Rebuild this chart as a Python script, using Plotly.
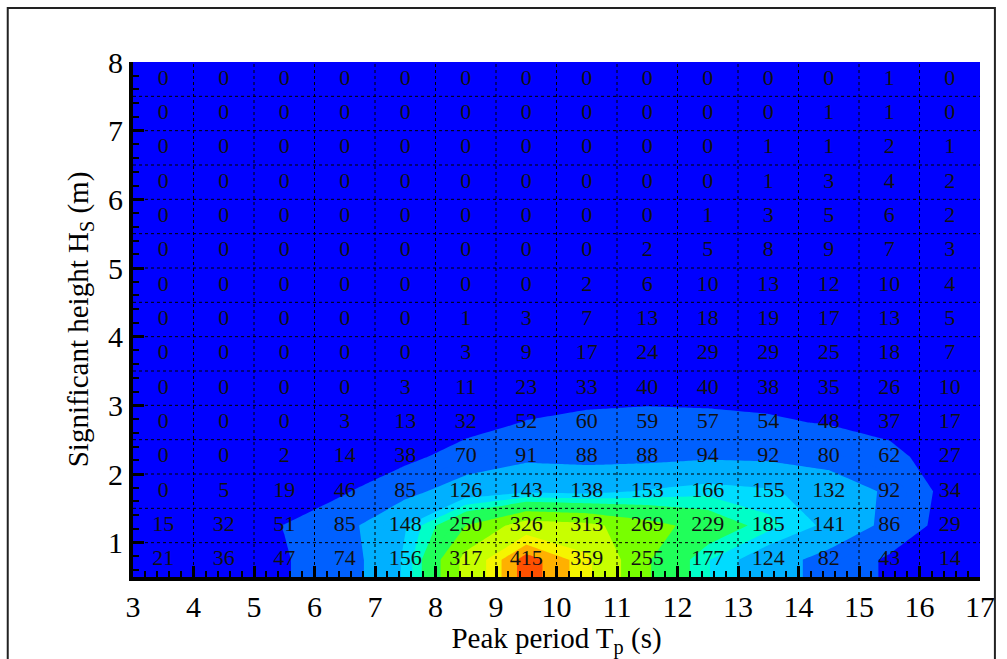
import numpy as np
import plotly.graph_objects as go

# Bin centres of the scatter table
peak_period = [3.5, 4.5, 5.5, 6.5, 7.5, 8.5, 9.5, 10.5, 11.5, 12.5, 13.5, 14.5, 15.5, 16.5]
sig_height = [0.75, 1.25, 1.75, 2.25, 2.75, 3.25, 3.75, 4.25, 4.75, 5.25, 5.75, 6.25, 6.75, 7.25, 7.75]

# Occurrence counts, one row per Hs bin (bottom row first)
counts = [
    [21, 36, 47, 74, 156, 317, 415, 359, 255, 177, 124, 82, 43, 14],
    [15, 32, 51, 85, 148, 250, 326, 313, 269, 229, 185, 141, 86, 29],
    [0, 5, 19, 46, 85, 126, 143, 138, 153, 166, 155, 132, 92, 34],
    [0, 0, 2, 14, 38, 70, 91, 88, 88, 94, 92, 80, 62, 27],
    [0, 0, 0, 3, 13, 32, 52, 60, 59, 57, 54, 48, 37, 17],
    [0, 0, 0, 0, 3, 11, 23, 33, 40, 40, 38, 35, 26, 10],
    [0, 0, 0, 0, 0, 3, 9, 17, 24, 29, 29, 25, 18, 7],
    [0, 0, 0, 0, 0, 1, 3, 7, 13, 18, 19, 17, 13, 5],
    [0, 0, 0, 0, 0, 0, 0, 2, 6, 10, 13, 12, 10, 4],
    [0, 0, 0, 0, 0, 0, 0, 0, 2, 5, 8, 9, 7, 3],
    [0, 0, 0, 0, 0, 0, 0, 0, 0, 1, 3, 5, 6, 2],
    [0, 0, 0, 0, 0, 0, 0, 0, 0, 0, 1, 3, 4, 2],
    [0, 0, 0, 0, 0, 0, 0, 0, 0, 0, 1, 1, 2, 1],
    [0, 0, 0, 0, 0, 0, 0, 0, 0, 0, 0, 1, 1, 0],
    [0, 0, 0, 0, 0, 0, 0, 0, 0, 0, 0, 0, 1, 0],
]

x_ticks = [3, 4, 5, 6, 7, 8, 9, 10, 11, 12, 13, 14, 15, 16, 17]
y_ticks = [1, 2, 3, 4, 5, 6, 7, 8]

# Flood bands: boundaries and the colour of each band
band_edges = [50, 100, 150, 175, 200, 250, 300, 350, 375, 400]
band_colors = ["#0000FF", "#0060FF", "#00B0FF", "#00DCFF", "#00FFC8",
               "#20FF5A", "#78FF00", "#C8FF00", "#F5F500", "#FFB000", "#FF5000"]

SERIF = "Liberation Serif"

# ---- contour field: bin centres, extended to the table edges ----
xc = np.array(peak_period, dtype=float)
yc = np.array(sig_height, dtype=float)
z = np.array(counts, dtype=float)
dx = xc[1] - xc[0]
dy = yc[1] - yc[0]
x_nodes = np.concatenate([[xc[0] - dx / 2], xc, [xc[-1] + dx / 2]])
y_nodes = np.concatenate([[yc[0] - dy / 2], yc, [yc[-1] + dy / 2]])
z_nodes = np.pad(z, 1, mode="edge")

# contour levels every 25, coloured stepwise by band
c_start, c_end, c_size = 25.0, 425.0, 25.0
nc = int(np.floor((c_end - c_start) / c_size)) + 1
z_lo = c_start - c_size / 2
z_hi = c_start + (nc - 0.5) * c_size


def frac(v):
    return float(np.clip((v - z_lo) / (z_hi - z_lo), 0, 1))


lows = [z_lo] + band_edges
highs = band_edges + [z_hi]
colorscale = []
for lo, hi, col in zip(lows, highs, band_colors):
    colorscale.append([frac(lo), col])
    colorscale.append([frac(hi), col])
colorscale[0][0] = 0.0
colorscale[-1][0] = 1.0

fig = go.Figure()

fig.add_trace(go.Contour(
    x=x_nodes, y=y_nodes, z=z_nodes,
    autocontour=False,
    contours=dict(start=c_start, end=c_end, size=c_size,
                  coloring="fill", showlines=False),
    line=dict(width=0, smoothing=0),
    colorscale=colorscale,
    showscale=False,
    hoverinfo="skip",
))

# dotted cell grid
x_edges = x_nodes[0] + dx * np.arange(len(xc) + 1)
y_edges = y_nodes[0] + dy * np.arange(len(yc) + 1)
gx, gy = [], []
for xe in x_edges[1:-1]:
    gx += [xe, xe, None]
    gy += [y_edges[0], y_edges[-1], None]
for ye in y_edges[1:-1]:
    gx += [x_edges[0], x_edges[-1], None]
    gy += [ye, ye, None]
fig.add_trace(go.Scatter(
    x=gx, y=gy, mode="lines",
    line=dict(color="black", width=1, dash="dot"),
    hoverinfo="skip", showlegend=False,
))

# count labels in every cell
XX, YY = np.meshgrid(xc, yc)
fig.add_trace(go.Scatter(
    x=XX.ravel(), y=YY.ravel(), mode="text",
    text=[str(int(v)) for v in z.ravel()],
    textposition="middle center",
    textfont=dict(family=SERIF, size=22, color="#111111"),
    hoverinfo="skip", showlegend=False,
))

axis_common = dict(
    showgrid=False, zeroline=False,
    showline=True, linecolor="black", linewidth=4, mirror=False,
    ticks="inside", ticklen=11, tickwidth=3, tickcolor="black",
    tickfont=dict(family=SERIF, size=30, color="black"),
    layer="above traces",
)

fig.update_xaxes(
    range=[x_ticks[0], x_ticks[-1]], tickvals=x_ticks,
    minor=dict(ticks="inside", ticklen=6, tickwidth=2, tickcolor="black", dtick=0.2, showgrid=False),
    title=dict(text="Peak period T<sub>p</sub> (s)", font=dict(family=SERIF, size=29, color="black"), standoff=0),
    **axis_common,
)
fig.update_yaxes(
    range=[y_edges[0], y_ticks[-1]], tickvals=y_ticks,
    minor=dict(ticks="inside", ticklen=6, tickwidth=2, tickcolor="black", dtick=0.2, showgrid=False),
    title=dict(text="Significant height H<sub>S</sub> (m)", font=dict(family=SERIF, size=29, color="black"), standoff=12),
    **axis_common,
)

# thin frame around the whole figure
L, R, T, B = 133, 22, 62, 82
W, H = 1007, 659
pw, ph = W - L - R, H - T - B


def px_x(p):
    return (p - L) / pw


def px_y(p):
    return (H - B - p) / ph


fig.add_shape(type="rect", xref="paper", yref="paper",
              x0=px_x(7), x1=px_x(1000), y0=px_y(670), y1=px_y(8),
              line=dict(color="#222222", width=2), fillcolor="rgba(0,0,0,0)", layer="above")

fig.update_layout(
    width=W, height=H,
    margin=dict(l=L, r=R, t=T, b=B),
    paper_bgcolor="white", plot_bgcolor="#0000FF",
    showlegend=False,
)

fig.write_html("out.html")
